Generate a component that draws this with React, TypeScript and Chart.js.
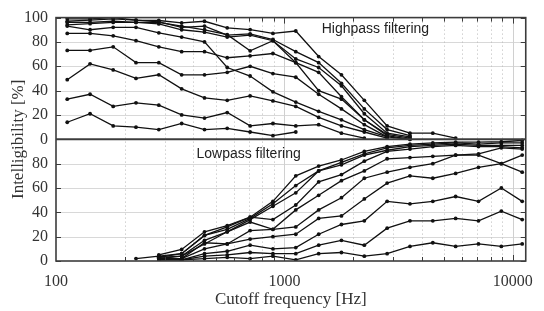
import React, { useEffect, useRef } from "react";
import { Chart, registerables } from "chart.js";

Chart.register(...registerables);

// Cutoff frequencies (Hz)
const freqs = [112, 141, 178, 224, 282, 355, 447, 562, 708, 891, 1122, 1413, 1778, 2239, 2818, 3548, 4467, 5623, 7079, 8913, 11000];

// Highpass filtering intelligibility [%] (one array per listener/condition)
const hp1 = [97, 98, 99, 98, 97.6, 95.7, 97, 91.6, 90.2, 87, 89, 68, 53, 32, 11, 5, 5, 1];
const hp2 = [99, 99, 100, 98, 96.5, 92, 93, 85.6, 86.7, 82, 72, 63, 46, 25, 8, 3];
const hp3 = [96, 96, 97, 96, 94.8, 90, 88, 84, 85.6, 81, 66, 59, 44, 21, 5, 2];
const hp4 = [94, 95, 96, 96, 96, 93, 90, 86, 72.7, 81, 63, 55, 35, 16, 4, 1];
const hp5 = [93, 90, 92, 92, 87.5, 84, 80, 59, 52, 39, 30.6, 23, 16, 8, 2, 0];
const hp6 = [87, 87, 85, 81, 76, 72, 72, 67, 68.6, 70.5, 63, 40, 33, 16, 3, 0];
const hp7 = [73, 73, 76, 63, 63, 53, 53, 55, 60, 54, 51, 37, 25, 12, 2];
const hp8 = [49, 62, 57, 50, 53, 41.5, 34, 32, 35.6, 31.5, 27, 18, 11, 6, 1];
const hp9 = [33, 37, 27, 30, 28, 20, 17.4, 22, 11, 13, 11, 12, 5, 1];
const hp10 = [14, 21, 11, 10, 8, 13, 8, 9, 6, 3, 6];

// Lowpass filtering intelligibility [%]
const lpA = [null, null, null, null, 5, 9.5, 24, 29, 36, 49, 70, 78, 83, 90, 94, 96, 97, 97.6, 97.6, 98, 99];
const lpB = [null, null, null, null, 4, 6, 21, 26, 35, 47, 62, 74, 81, 88, 93, 95, 96, 97, 96, 97, 97];
const lpC = [null, null, null, null, 3, 4, 17, 24, 34, 45, 56, 74, 79, 87, 91, 94, 95, 96, 95, 95, 95];
const lpD = [null, null, null, null, 3, 6, 21, 28, 36, 34, 46, 65, 71, 82, 90, 92, 94, 95, 94, 94, 93];
const lpE = [null, null, null, null, 2, 4, 14, 24, 32, 26, 42, 54, 66, 74, 84, 85, 86, 87, 87, 80, 73];
const lpF = [null, null, null, null, 2, 2, 10, 14, 25, 26, 28, 42, 52, 68, 73, 77, 80, 87, 88, 93, 92];
const lpG = [null, null, null, null, 1, 2, 15, 14, 18, 20, 22, 35, 37, 51, 64, 70, 68, 72, 77, 80, 87];
const lpH = [null, null, null, null, 1, 1, 6, 8, 13, 10, 11, 22, 30, 33, 49, 47, 49, 53, 49, 60, 49];
const lpI = [null, null, null, null, 1, 1, 4, 5, 7, 6, 6, 13, 17, 13, 27, 33, 33, 35, 33, 41, 34];
const lpJ = [null, null, null, 2, 4, 1, 2, 3, 2, 4, 1, 6, 7, 4, 6, 12, 15, 12, 14, 12, 14];

const highpass = [hp1, hp2, hp3, hp4, hp5, hp6, hp7, hp8, hp9, hp10];
const lowpass = [lpA, lpB, lpC, lpD, lpE, lpF, lpG, lpH, lpI, lpJ];

// y ticks (0..200 combined axis: lower half lowpass, upper half highpass)
const yTickValues = [0, 20, 40, 60, 80, 100, 120, 140, 160, 180, 200];
const xTickValues = [100, 1000, 10000];

const FRAME = "#3c3c3c";

const decorPlugin = {
  id: "decor",
  beforeDatasetsDraw(chart: any) {
    const { ctx, chartArea } = chart;
    const { left, right, top, bottom } = chartArea;
    const xs = chart.scales.x;
    const ys = chart.scales.y;
    ctx.save();
    ctx.strokeStyle = "#d8d8d8";
    ctx.lineWidth = 1;
    ctx.setLineDash([]);
    for (const v of yTickValues) {
      if (v === 0 || v === 100 || v === 200) continue;
      const py = Math.round(ys.getPixelForValue(v)) + 0.5;
      ctx.beginPath();
      ctx.moveTo(left, py);
      ctx.lineTo(right, py);
      ctx.stroke();
    }
    for (const dec of [100, 1000, 10000]) {
      for (let m = 1; m <= 9; m++) {
        const v = m * dec;
        if (v <= xs.min || v >= xs.max) continue;
        const px = Math.round(xs.getPixelForValue(v)) + 0.5;
        ctx.beginPath();
        if (m === 1) {
          ctx.setLineDash([]);
          ctx.strokeStyle = "#d0d0d0";
        } else {
          ctx.setLineDash([1, 3]);
          ctx.strokeStyle = "#b8b8b8";
        }
        ctx.moveTo(px, top);
        ctx.lineTo(px, bottom);
        ctx.stroke();
      }
    }
    ctx.restore();
  },
  afterDatasetsDraw(chart: any) {
    const { ctx, chartArea } = chart;
    const { left, right, top, bottom } = chartArea;
    const xs = chart.scales.x;
    const ys = chart.scales.y;
    ctx.save();
    ctx.setLineDash([]);
    ctx.strokeStyle = FRAME;
    ctx.lineWidth = 1;
    for (const dec of [100, 1000, 10000]) {
      for (let m = 1; m <= 9; m++) {
        const v = m * dec;
        if (v <= xs.min || v >= xs.max) continue;
        const px = Math.round(xs.getPixelForValue(v)) + 0.5;
        const len = m === 1 ? 6 : 4;
        ctx.beginPath();
        ctx.moveTo(px, bottom);
        ctx.lineTo(px, bottom - len);
        ctx.moveTo(px, top);
        ctx.lineTo(px, top + len);
        ctx.stroke();
      }
    }
    for (const v of yTickValues) {
      const py = Math.round(ys.getPixelForValue(v)) + 0.5;
      ctx.beginPath();
      ctx.moveTo(left, py);
      ctx.lineTo(left + 5, py);
      ctx.moveTo(right, py);
      ctx.lineTo(right - 5, py);
      ctx.stroke();
    }
    ctx.lineWidth = 1.6;
    ctx.strokeRect(left, top, right - left, bottom - top);
    const my = ys.getPixelForValue(100);
    ctx.lineWidth = 2;
    ctx.beginPath();
    ctx.moveTo(left, my);
    ctx.lineTo(right, my);
    ctx.stroke();
    ctx.fillStyle = "#222";
    ctx.font = "14px 'Liberation Sans', Arial, sans-serif";
    ctx.textAlign = "center";
    ctx.textBaseline = "middle";
    ctx.fillText("Highpass filtering", left + (right - left) * 0.68, top + 12);
    ctx.fillText("Lowpass filtering", left + (right - left) * 0.41, my + 15);
    ctx.restore();
  },
};

function buildData(arr: (number | null)[], offset: number) {
  const out: { x: number; y: number }[] = [];
  arr.forEach((v, i) => {
    if (v !== null && v !== undefined) out.push({ x: freqs[i], y: v + offset });
  });
  return out;
}

export default function App() {
  const ref = useRef<HTMLCanvasElement | null>(null);
  useEffect(() => {
    if (!ref.current) return;
    const lineStyle = {
      borderColor: "#111",
      backgroundColor: "#111",
      borderWidth: 1.3,
      pointRadius: 1.9,
      pointBackgroundColor: "#111",
      pointBorderColor: "#111",
      pointBorderWidth: 0,
      tension: 0,
      fill: false,
    };
    const datasets = [
      ...highpass.map((a, i) => ({ label: "HP" + (i + 1), data: buildData(a, 100), ...lineStyle })),
      ...lowpass.map((a, i) => ({ label: "LP" + (i + 1), data: buildData(a, 0), ...lineStyle })),
    ];
    const serif = "'Liberation Serif', 'Times New Roman', serif";
    const chart = new Chart(ref.current, {
      type: "line",
      data: { datasets },
      options: {
        animation: false,
        responsive: false,
        devicePixelRatio: 1,
        layout: { padding: { top: 15, right: 9, left: 0, bottom: 0 } },
        plugins: { legend: { display: false }, tooltip: { enabled: false } },
        scales: {
          x: {
            type: "logarithmic",
            min: 100,
            max: 11400,
            afterBuildTicks: (s: any) => {
              s.ticks = xTickValues.map((v) => ({ value: v }));
            },
            afterFit: (s: any) => {
              s.height = 50;
            },
            grid: { display: false, drawTicks: false },
            border: { display: false },
            ticks: {
              autoSkip: false,
              maxRotation: 0,
              padding: 11,
              color: "#333",
              font: { family: serif, size: 16 },
              callback: (v: any) => String(v),
            },
            title: {
              display: true,
              text: "Cutoff frequency [Hz]",
              color: "#333",
              font: { family: serif, size: 17 },
              padding: { top: 0, bottom: 1 },
            },
          },
          y: {
            type: "linear",
            min: 0,
            max: 200,
            afterBuildTicks: (s: any) => {
              s.ticks = yTickValues.map((v) => ({ value: v }));
            },
            afterFit: (s: any) => {
              s.width = 56;
            },
            grid: { display: false, drawTicks: false },
            border: { display: false },
            ticks: {
              padding: 8,
              color: "#333",
              font: { family: serif, size: 16 },
              callback: (v: any) => String(v >= 100 ? v - 100 : v),
            },
            title: {
              display: true,
              text: "Intelligibility [%]",
              color: "#333",
              font: { family: serif, size: 17 },
              padding: { top: 8, bottom: 0 },
            },
          },
        },
      },
      plugins: [decorPlugin],
    } as any);
    return () => chart.destroy();
  }, []);
  return (
    <div style={{ position: "absolute", left: 0, top: 0, width: 544, height: 311, background: "#fff" }}>
      <canvas ref={ref} width={544} height={311} style={{ width: 544, height: 311, display: "block" }} />
    </div>
  );
}
